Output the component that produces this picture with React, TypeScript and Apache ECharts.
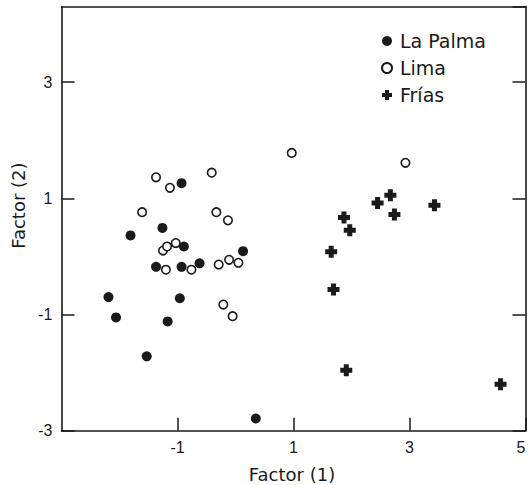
import React, { useEffect, useRef } from "react";
import * as echarts from "echarts";

const seriesNames = ["La Palma", "Lima", "Frías"];

const laPalma: number[][] = [
  [-0.93, 1.26], [-1.26, 0.49], [-1.81, 0.36], [-0.89, 0.17], [-1.37, -0.18],
  [-0.93, -0.18], [-0.62, -0.12], [0.13, 0.09], [-2.19, -0.7], [-2.06, -1.05],
  [-0.96, -0.72], [-1.17, -1.12], [-1.53, -1.72], [0.35, -2.79],
];

const lima: number[][] = [
  [-1.37, 1.36], [-1.13, 1.18], [-0.41, 1.44], [-1.61, 0.76], [-0.33, 0.76],
  [-0.13, 0.62], [-1.25, 0.1], [-1.18, 0.17], [-1.03, 0.23], [-1.2, -0.23],
  [-0.76, -0.23], [-0.29, -0.14], [-0.11, -0.06], [0.05, -0.11], [-0.21, -0.83],
  [-0.05, -1.03], [0.97, 1.78], [2.93, 1.61],
];

const frias: number[][] = [
  [1.87, 0.67], [1.97, 0.45], [2.45, 0.92], [2.67, 1.05], [2.74, 0.72],
  [3.43, 0.88], [1.65, 0.08], [1.69, -0.57], [1.91, -1.96], [4.57, -2.2],
];

const xName = "Factor (1)";
const yName = "Factor (2)";
const xMin = -3, xMax = 5, xStep = 2;
const yMin = -3, yMax = 4.3, yStep = 2;

const crossPath =
  "path://M3.5,0 H8.5 V3.5 H12 V8.5 H8.5 V12 H3.5 V8.5 H0 V3.5 H3.5 Z";

const ink = "#1a1a1a";

export default function App() {
  const ref = useRef<HTMLDivElement>(null);
  useEffect(() => {
    if (!ref.current) return;
    const chart = echarts.init(ref.current, undefined, { renderer: "svg" });
    const axisLine = { show: true, onZero: false, lineStyle: { color: ink, width: 1.6 } };
    const tick = { show: true, inside: true, length: 13, lineStyle: { color: ink, width: 1.5 } };
    const tickFont = { fontFamily: "Liberation Sans", fontSize: 16, color: ink };
    chart.setOption({
      animation: false,
      backgroundColor: "#ffffff",
      grid: {
        left: 61.5,
        right: 2.5,
        top: 6.5,
        bottom: 54.3,
        show: false,
        containLabel: false,
        outerBoundsMode: "none",
      },
      legend: {
        orient: "vertical",
        left: 376,
        top: 26.5,
        itemGap: 8,
        itemWidth: 10,
        itemHeight: 10,
        textStyle: { fontFamily: "DejaVu Sans", fontSize: 19, color: ink, padding: [0, 0, 0, 3] },
        data: [
          { name: seriesNames[0], icon: "circle" },
          { name: seriesNames[1], icon: "circle" },
          { name: seriesNames[2], icon: crossPath },
        ],
      },
      xAxis: [
        {
          type: "value",
          position: "bottom",
          min: xMin,
          max: xMax,
          interval: xStep,
          axisLine,
          axisTick: tick,
          splitLine: { show: false },
          axisLabel: { ...tickFont, margin: 9, showMinLabel: false, alignMaxLabel: "right" },
          name: xName,
          nameLocation: "middle",
          nameGap: 35,
          nameTextStyle: { fontFamily: "DejaVu Sans", fontSize: 18, color: ink, padding: [0, 3, 0, 0] },
        },
        {
          type: "value",
          position: "top",
          min: xMin,
          max: xMax,
          interval: xStep,
          axisLine,
          axisTick: { show: false },
          axisLabel: { show: false },
          splitLine: { show: false },
        },
      ],
      yAxis: [
        {
          type: "value",
          position: "left",
          min: yMin,
          max: yMax,
          interval: yStep,
          axisLine,
          axisTick: tick,
          splitLine: { show: false },
          axisLabel: {
            ...tickFont,
            margin: 9,
            showMaxLabel: false,
            formatter: (v: number) => (Number.isInteger(v) ? String(v) : ""),
          },
          name: yName,
          nameLocation: "middle",
          nameGap: 20,
          nameRotate: 90,
          nameTextStyle: { fontFamily: "DejaVu Sans", fontSize: 18, color: ink, padding: [0, 0, 0, 26] },
        },
        {
          type: "value",
          position: "right",
          min: yMin,
          max: yMax,
          interval: yStep,
          axisLine,
          axisTick: tick,
          axisLabel: { show: false },
          splitLine: { show: false },
        },
      ],
      series: [
        {
          name: seriesNames[0],
          type: "scatter",
          data: laPalma,
          symbol: "circle",
          symbolSize: 10,
          itemStyle: { color: ink, opacity: 1 },
          z: 3,
        },
        {
          name: seriesNames[1],
          type: "scatter",
          data: lima,
          symbol: "circle",
          symbolSize: 8.5,
          itemStyle: { color: "#ffffff", borderColor: ink, borderWidth: 1.6, opacity: 1 },
          z: 2,
        },
        {
          name: seriesNames[2],
          type: "scatter",
          data: frias,
          symbol: crossPath,
          symbolSize: 12,
          itemStyle: { color: ink, opacity: 1 },
          z: 2,
        },
      ],
    });
    return () => chart.dispose();
  }, []);
  return <div ref={ref} style={{ width: 528, height: 485, position: "absolute", left: 0, top: 0 }} />;
}
